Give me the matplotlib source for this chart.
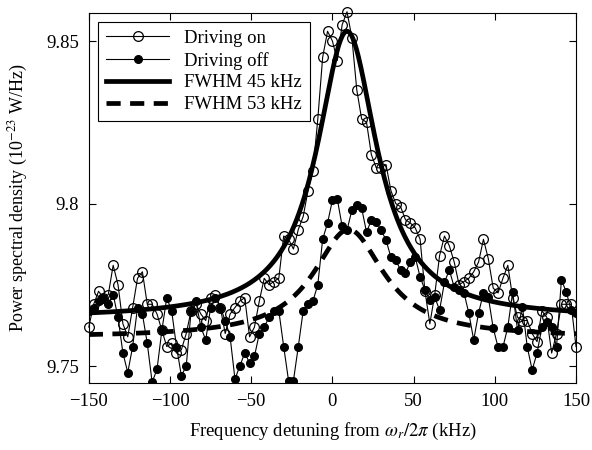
import numpy as np
import matplotlib
matplotlib.use('Agg')
import matplotlib.pyplot as plt

# frequency detuning grid (kHz), one point every 3 kHz
freq = np.arange(-150, 151, 3)

# power spectral density, driving on (10^-23 W/Hz)
psd_on = [
    9.762, 9.769, 9.773, 9.771, 9.772, 9.781, 9.775, 9.763, 9.759, 9.768,
    9.777, 9.779, 9.769, 9.769, 9.766, 9.761, 9.756,
    9.757, 9.754, 9.755, 9.760, 9.767, 9.769, 9.766, 9.764, 9.771, 9.772,
    9.768, 9.760, 9.766, 9.768, 9.770, 9.771, 9.759,
    9.762, 9.770, 9.777, 9.775, 9.776, 9.777, 9.790, 9.789, 9.786, 9.792,
    9.796, 9.804, 9.810, 9.826, 9.845, 9.853, 9.850,
    9.844, 9.855, 9.859, 9.851, 9.835, 9.826, 9.825, 9.815, 9.811, 9.811,
    9.812, 9.804, 9.800, 9.799, 9.795, 9.794, 9.7925,
    9.789, 9.773, 9.763, 9.772, 9.784, 9.790, 9.787, 9.782, 9.775, 9.776,
    9.777, 9.779, 9.782, 9.789, 9.783, 9.774, 9.7725,
    9.777, 9.781, 9.771, 9.765, 9.764, 9.764, 9.760, 9.7575, 9.767, 9.765,
    9.754, 9.760, 9.769, 9.769, 9.769, 9.756,
]

# power spectral density, driving off
psd_off = [
    9.767, 9.768, 9.770, 9.771, 9.769, 9.772, 9.765, 9.754, 9.748, 9.756,
    9.768, 9.766, 9.757, 9.745, 9.749, 9.761, 9.771, 9.767, 9.756, 9.747,
    9.750, 9.767, 9.770, 9.762, 9.758, 9.768, 9.771, 9.768, 9.764, 9.759,
    9.746, 9.750, 9.754,
    9.751, 9.753, 9.760, 9.762, 9.765, 9.767, 9.767, 9.756, 9.7455, 9.7455,
    9.756, 9.767, 9.769, 9.770, 9.775,
    9.789, 9.794, 9.801, 9.8014, 9.793, 9.7918, 9.798, 9.7995, 9.7986, 9.7912,
    9.7949, 9.7943, 9.7918, 9.7888, 9.7835, 9.7826, 9.7795,
    9.7786, 9.782, 9.7835, 9.7774, 9.7734, 9.7703, 9.7712, 9.7672, 9.7758,
    9.7795, 9.7743, 9.7734, 9.7725, 9.7663, 9.758, 9.7663, 9.7725, 9.7712,
    9.7617, 9.7558, 9.7558, 9.762, 9.7728, 9.761, 9.7682, 9.7558, 9.7488,
    9.754, 9.762, 9.7635, 9.762, 9.7558, 9.7765, 9.7728, 9.7672, 9.7663,
]

# Lorentzian fits: (center kHz, FWHM kHz, amplitude, baseline)
fit_on = (9.0, 45.0, 0.0884, 9.7646)
fit_off = (10.0, 53.0, 0.0332, 9.7588)


def lorentz(f, p):
    f0, w, a, b = p
    return b + a / (1 + ((f - f0) / (w / 2)) ** 2)


plt.rcParams['font.family'] = ['Liberation Serif', 'DejaVu Serif']
plt.rcParams['mathtext.fontset'] = 'stix'

fig = plt.figure(figsize=(5.92, 4.5), dpi=100)
ax = fig.add_axes([0.150, 0.149, 0.823, 0.822])

ax.plot(freq, psd_on, 'k-o', lw=0.8, ms=7, mfc='none', mew=0.9,
        label='Driving on', clip_on=False, zorder=3)
ax.plot(freq, psd_off, 'k-o', lw=0.8, ms=5.5, mfc='k',
        label='Driving off', zorder=3)

ff = np.linspace(-150, 150, 601)
ax.plot(ff, lorentz(ff, fit_on), 'k-', lw=3.4, label='FWHM 45 kHz', zorder=4)
ax.plot(ff, lorentz(ff, fit_off), 'k--', lw=3.4, dashes=(3, 2),
        label='FWHM 53 kHz', zorder=4)

ax.set_xlim(-150, 150)
ax.set_ylim(9.7448, 9.8586)
ax.set_xticks([-150, -100, -50, 0, 50, 100, 150])
ax.set_xticklabels(['\u2212150', '\u2212100', '\u221250', '0', '50', '100', '150'])
ax.set_yticks([9.75, 9.8, 9.85])
ax.set_yticklabels(['9.75', '9.8', '9.85'])
ax.tick_params(direction='in', top=True, right=True, labelsize=13.5,
               length=5, pad=7)

ax.set_xlabel(r'Frequency detuning from $\omega_r/2\pi$ (kHz)', fontsize=13.5,
              labelpad=8)
ax.set_ylabel(r'Power spectral density (10$^{-23}$ W/Hz)', fontsize=13,
              labelpad=12)

leg = ax.legend(loc='upper left', fontsize=13.5, fancybox=False,
                edgecolor='k', framealpha=1, handlelength=3.4,
                borderaxespad=0.5, labelspacing=0.25, borderpad=0.4)
leg.get_frame().set_linewidth(0.8)

fig.savefig('out.png', dpi=100)
